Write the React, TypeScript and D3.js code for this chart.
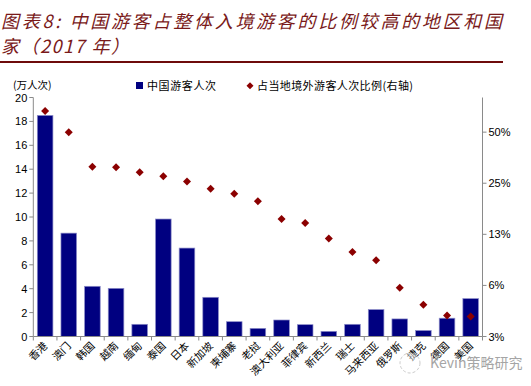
import * as d3 from "d3";
import React from "react";

// 数据：中国游客人次（万人次）与占当地境外游客比例
const categories = [
  "香港", "澳门", "韩国", "越南", "缅甸", "泰国", "日本", "新加坡", "柬埔寨", "老挝",
  "澳大利亚", "菲律宾", "新西兰", "瑞士", "马来西亚", "俄罗斯", "捷克", "德国", "美国",
];
const visitors = [
  18.5, 8.65, 4.2, 4.03, 1.02, 9.83, 7.4, 3.28, 1.24, 0.68,
  1.38, 0.99, 0.43, 1.02, 2.25, 1.47, 0.5, 1.53, 3.17,
];
const shares = [
  0.665, 0.5, 0.313, 0.311, 0.29, 0.275, 0.256, 0.232, 0.217, 0.196,
  0.154, 0.146, 0.118, 0.0985, 0.088, 0.0605, 0.048, 0.0415, 0.041,
];
const leftTicks = [0, 2, 4, 6, 8, 10, 12, 14, 16, 18, 20];
const rightTicks = [0.03125, 0.0625, 0.125, 0.25, 0.5];
const rightTickLabels = ["3%", "6%", "13%", "25%", "50%"];

const W = 531;
const H = 386;
const left = 33.3;
const right = 482.5;
const top = 97.5;
const bottom = 336.5;

const cjk = "'Noto Sans CJK SC', sans-serif";
const latin = "'Liberation Sans', Arial, sans-serif";
const barColor = "#000080";
const dotColor = "#8b0000";
const axisColor = "#8a8a8a";

export default function App() {
  const x = d3.scaleBand<string>()
    .domain(categories)
    .range([left, right])
    .paddingInner(0.34)
    .paddingOuter(0.17);
  const y = d3.scaleLinear().domain([0, 20]).range([bottom, top]);
  const y2 = d3.scaleLog().base(2).domain([0.03125, 0.8]).range([bottom, top]);
  const step = x.step();

  const diamond = (cx: number, cy: number, r: number) =>
    `M${cx},${cy - r}L${cx + r},${cy}L${cx},${cy + r}L${cx - r},${cy}Z`;

  return (
    <svg width={W} height={H} style={{ position: "absolute", left: 0, top: 0, background: "#fff" }}>
      {/* 标题 */}
      <g fill="#7a1a1a" fontFamily={cjk} fontStyle="italic" fontSize={18}>
        <text x={1} y={28} textLength={501} lengthAdjust="spacing">
          图表8: 中国游客占整体入境游客的比例较高的地区和国
        </text>
        <text x={1} y={53} letterSpacing={1.5}>家（2017 年）</text>
      </g>
      <line x1={0} x2={503} y1={62} y2={62} stroke="#6e0b0b" strokeWidth={2} />

      {/* 单位与图例 */}
      <text x={13} y={89} fontFamily={cjk} fontSize={10.5}>(万人次)</text>
      <rect x={136} y={82} width={7} height={7} fill={barColor} />
      <text x={147} y={90} fontFamily={cjk} fontSize={11} letterSpacing={0.6}>中国游客人次</text>
      <path d={diamond(250, 85.7, 3.5)} fill={dotColor} />
      <text x={257} y={90} fontFamily={cjk} fontSize={11} letterSpacing={0.4}>占当地境外游客人次比例(右轴)</text>

      {/* 柱 */}
      {categories.map((c, i) => (
        <rect
          key={c}
          x={x(c)}
          y={y(visitors[i])}
          width={x.bandwidth()}
          height={y(0) - y(visitors[i])}
          fill={barColor}
          stroke="#8c8cc8"
          strokeWidth={0.7}
        />
      ))}

      {/* 左轴 */}
      <line x1={left} x2={left} y1={top} y2={bottom} stroke={axisColor} />
      {leftTicks.map((t) => (
        <g key={t}>
          <line x1={left - 4} x2={left} y1={y(t)} y2={y(t)} stroke={axisColor} />
          <text x={left - 6} y={y(t) + 4} textAnchor="end" fontFamily={latin} fontSize={11}>{t}</text>
        </g>
      ))}

      {/* 右轴 */}
      <line x1={right} x2={right} y1={top} y2={bottom} stroke={axisColor} />
      {rightTicks.map((t, i) => (
        <g key={t}>
          <line x1={right} x2={right + 4} y1={y2(t)} y2={y2(t)} stroke={axisColor} />
          <text x={right + 6} y={y2(t) + 4} fontFamily={latin} fontSize={11}>{rightTickLabels[i]}</text>
        </g>
      ))}

      {/* X 轴 */}
      <line x1={left} x2={right} y1={bottom} y2={bottom} stroke={axisColor} />
      {d3.range(categories.length + 1).map((i) => (
        <line key={i} x1={left + i * step} x2={left + i * step} y1={bottom} y2={bottom + 4} stroke={axisColor} />
      ))}
      {categories.map((c) => {
        const cx = (x(c) ?? 0) + x.bandwidth() / 2 + 3;
        const cy = bottom + 10;
        return (
          <text
            key={c}
            x={cx}
            y={cy}
            textAnchor="end"
            fontFamily={cjk}
            fontSize={10.5}
            transform={`rotate(-45,${cx},${cy})`}
          >
            {c}
          </text>
        );
      })}

      {/* 比例点 */}
      {categories.map((c, i) => (
        <path
          key={c}
          d={diamond((x(c) ?? 0) + x.bandwidth() / 2, y2(shares[i]), 4)}
          fill={dotColor}
        />
      ))}

      {/* 水印 */}
      <g opacity={0.75}>
        <circle cx={410} cy={363} r={10} fill="#fff" fillOpacity={0.6} stroke="#bbb" strokeDasharray="3,2" />
        <text x={430} y={368} fontFamily={cjk} fontSize={14} fill="#888" stroke="#fff" strokeWidth={0.6} paintOrder="stroke">
          Kevin策略研究
        </text>
      </g>
    </svg>
  );
}
